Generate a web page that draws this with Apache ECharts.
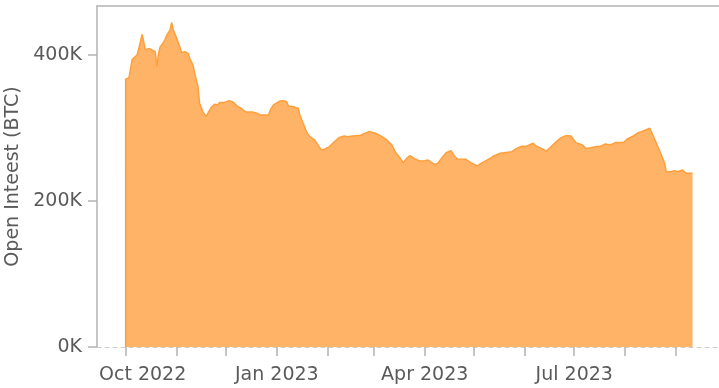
<!DOCTYPE html>
<html>
<head>
<meta charset="utf-8">
<script src="https://cdn.jsdelivr.net/npm/echarts@6/dist/echarts.min.js"></script>
<style>
  html, body { margin: 0; padding: 0; background: #fff; }
  #chart { width: 719px; height: 388px; }
</style>
</head>
<body>
<div id="chart"></div>
<script>
// Bitcoin futures open interest, in BTC
const dates = [
  '2022-10-01','2022-10-01','2022-10-03','2022-10-04','2022-10-05','2022-10-08','2022-10-09','2022-10-10',
  '2022-10-11','2022-10-12','2022-10-13','2022-10-15','2022-10-16','2022-10-17','2022-10-18','2022-10-19',
  '2022-10-20','2022-10-21','2022-10-22','2022-10-24','2022-10-25','2022-10-26','2022-10-28','2022-10-29',
  '2022-10-30','2022-11-01','2022-11-03','2022-11-04','2022-11-06','2022-11-08','2022-11-09','2022-11-11',
  '2022-11-12','2022-11-14','2022-11-15','2022-11-17','2022-11-19','2022-11-20','2022-11-22','2022-11-24',
  '2022-11-26','2022-11-27','2022-11-30','2022-12-03','2022-12-05','2022-12-08','2022-12-11','2022-12-13',
  '2022-12-17','2022-12-20','2022-12-22','2022-12-27','2022-12-28','2022-12-30','2023-01-03','2023-01-05',
  '2023-01-07','2023-01-08','2023-01-11','2023-01-14','2023-01-15','2023-01-17','2023-01-19','2023-01-21',
  '2023-01-24','2023-01-26','2023-01-28','2023-01-30','2023-02-02','2023-02-05','2023-02-08','2023-02-11',
  '2023-02-13','2023-02-16','2023-02-21','2023-02-26','2023-03-02','2023-03-06','2023-03-09','2023-03-12',
  '2023-03-14','2023-03-16','2023-03-19','2023-03-21','2023-03-23','2023-03-26','2023-03-29','2023-04-01',
  '2023-04-03','2023-04-05','2023-04-07','2023-04-09','2023-04-12','2023-04-14','2023-04-17','2023-04-19',
  '2023-04-21','2023-04-26','2023-04-29','2023-05-03','2023-05-06','2023-05-08','2023-05-11','2023-05-13',
  '2023-05-17','2023-05-18','2023-05-24','2023-05-27','2023-05-30','2023-06-02','2023-06-06','2023-06-08',
  '2023-06-11','2023-06-14','2023-06-17','2023-06-20','2023-06-23','2023-06-26','2023-06-29','2023-07-02',
  '2023-07-06','2023-07-08','2023-07-11','2023-07-14','2023-07-17','2023-07-20','2023-07-23','2023-07-26',
  '2023-07-31','2023-08-02','2023-08-06','2023-08-09','2023-08-12','2023-08-16','2023-08-17','2023-08-20',
  '2023-08-23','2023-08-25','2023-08-26','2023-08-29','2023-08-31','2023-09-02','2023-09-05','2023-09-07',
  '2023-09-11'
];
const openInterest = [
  0, 366700, 369000, 381700, 394000, 400000, 402000, 418000,
  428000, 427000, 407000, 409000, 411000, 407000, 408000, 404500,
  384000, 402000, 411000, 417000, 421500, 427000, 434000, 444500,
  434000, 423000, 411000, 403000, 404500, 402000, 395500, 386000,
  375000, 356600, 333800, 322000, 315500, 320000, 328000, 332500,
  331500, 334700, 335000, 337400, 336000, 330000, 325600, 322000,
  322000, 320000, 317800, 317800, 324700, 331500, 337000, 337400,
  336000, 330000, 329000, 327000, 317800, 306400, 295000, 288000,
  283600, 276700, 270000, 270800, 274400, 281000, 287000, 289000,
  288000, 289000, 290000, 295000, 292700, 288000, 283600, 276700,
  267500, 261600, 252500, 258500, 262000, 257500, 254800, 255200,
  256000, 253000, 250000, 251600, 260700, 266000, 269000, 261600,
  257500, 257000, 252500, 248000, 252500, 254800, 258500, 261600,
  265300, 267500, 267500, 272000, 275000, 275000, 279000, 275000,
  272000, 268500, 274400, 281000, 286700, 289500, 289000, 279900,
  276700, 272000, 273000, 274400, 275000, 278000, 276700, 279900,
  279900, 284500, 289000, 293600, 295900, 299600, 297300, 279000,
  263000, 251600, 240000, 240000, 241500, 240000, 242500, 238000,
  238000
];
// Monthly tick marks and quarterly labels
const tickMonths = ['2022-10-01','2022-11-01','2022-12-01','2023-01-01','2023-02-01','2023-03-01',
  '2023-04-01','2023-05-01','2023-06-01','2023-07-01','2023-08-01','2023-09-01'];
const labelMonths = ['2022-10-01','2023-01-01','2023-04-01','2023-07-01'];
const yTicks = [0, 200000, 400000];
const monthNames = ['Jan','Feb','Mar','Apr','May','Jun','Jul','Aug','Sep','Oct','Nov','Dec'];

const toTime = s => { const p = s.split('-').map(Number); return Date.UTC(p[0], p[1] - 1, p[2]); };
const DAY = 86400000;
const xStart = toTime('2022-10-01') - 17.45 * DAY;
const xEnd = toTime('2022-10-01') + 361.1 * DAY;

const seriesData = dates.map((d, i) => [toTime(d), openInterest[i]]);

const textColor = '#5a5a5a';
const axisGray = '#b3b3b3';
const font = 'DejaVu Sans';
const firstLabel = toTime(labelMonths[0]);

const chart = echarts.init(document.getElementById('chart'), null, { renderer: 'canvas' });
chart.setOption({
  animation: false,
  backgroundColor: '#ffffff',
  grid: { left: 97, top: 6, right: 0, bottom: 41, containLabel: false, outerBoundsMode: 'none' },
  xAxis: [{
    type: 'value',
    min: xStart,
    max: xEnd,
    axisLine: { show: true, lineStyle: { color: '#cfcfcf', type: [4, 4], width: 1 } },
    axisTick: {
      show: true, length: 9, inside: false,
      customValues: tickMonths.map(toTime),
      lineStyle: { color: axisGray, width: 1.5 }
    },
    axisLabel: {
      customValues: labelMonths.map(toTime),
      margin: 19,
      color: textColor, fontFamily: font, fontSize: 19,
      formatter: v => {
        const d = new Date(v);
        const text = monthNames[d.getUTCMonth()] + ' ' + d.getUTCFullYear();
        // the first label is kept flush with the plot's left edge
        return v === firstLabel ? '{flush|' + text + '}' : text;
      },
      rich: {
        flush: { color: textColor, fontFamily: font, fontSize: 19, padding: [0, 0, 0, 34] }
      }
    },
    splitLine: { show: false }
  }, {
    type: 'value',
    position: 'top',
    min: xStart,
    max: xEnd,
    axisLine: { show: true, lineStyle: { color: axisGray, width: 1.5 } },
    axisTick: { show: false },
    axisLabel: { show: false },
    splitLine: { show: false }
  }],
  yAxis: {
    type: 'value',
    min: 0,
    max: 467000,
    interval: 200000,
    name: 'Open Inteest (BTC)',
    nameLocation: 'middle',
    nameGap: 71,
    nameTextStyle: { color: textColor, fontFamily: font, fontSize: 19 },
    axisLine: { show: true, lineStyle: { color: axisGray, width: 1.5 } },
    axisTick: { show: true, length: 9, customValues: yTicks, lineStyle: { color: axisGray, width: 1.5 } },
    axisLabel: {
      customValues: yTicks,
      margin: 15,
      color: textColor, fontFamily: font, fontSize: 19,
      formatter: v => (v / 1000) + 'K'
    },
    splitLine: { show: false }
  },
  series: [{
    type: 'line',
    xAxisIndex: 0,
    data: seriesData,
    showSymbol: false,
    symbol: 'none',
    lineStyle: { color: '#ff9f3c', width: 1.5 },
    areaStyle: { color: '#ffb366', opacity: 1 }
  }]
});
</script>
</body>
</html>
